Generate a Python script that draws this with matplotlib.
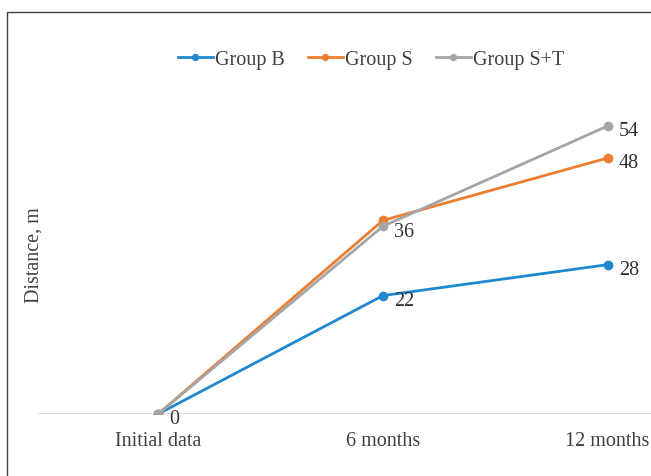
import matplotlib.pyplot as plt
from matplotlib.patches import Rectangle

categories = ['Initial data', '6 months', '12 months']
group_b = [0, 22.2, 28]
group_s = [0, 36.3, 48]
group_st = [0, 35.2, 54]
labels_b = ['', '22', '28']
labels_s = ['', '', '48']
labels_st = ['0', '36', '54']

plt.rcParams['font.family'] = ['Liberation Serif', 'DejaVu Serif']
FS = 14.5

fig = plt.figure(figsize=(6.51, 4.77), dpi=100)
# figure frame (only left and top visible in the reference)
fig.patches.append(Rectangle((7/651, -0.1), 1.2, 1 - 13/477 + 0.1, transform=fig.transFigure,
                             fill=False, edgecolor='#404040', linewidth=1.0))

ax = fig.add_axes([38/651, (477-415)/477, (720-38)/651, (415-95)/477])
x = range(len(categories))
series = [(group_b, labels_b, '#2088CE', 'Group B'),
          (group_s, labels_s, '#ED7D31', 'Group S'),
          (group_st, labels_st, '#A5A5A5', 'Group S+T')]
for vals, labs, col, name in series:
    ax.plot(x, vals, color=col, linewidth=2.0, marker='o', markersize=6, label=name, zorder=3)
    for xi, v, t in zip(x, vals, labs):
        if t:
            ax.annotate(t, (xi, v), xytext=(8, -3.5), textcoords='offset points',
                        ha='left', va='center', fontsize=FS, color='#333333')

ax.set_xlim(-0.535, 2.5)
ax.set_ylim(0, 60)
ax.axhline(0, color='#D9D9D9', linewidth=1.2, zorder=1)
for s in ax.spines.values():
    s.set_visible(False)
ax.set_yticks([])
ax.set_xticks(list(x))
ax.set_xticklabels(categories, fontsize=FS, color='#404040')
ax.tick_params(axis='x', length=0, pad=12)
ax.set_facecolor('none')

fig.text(34/651, 1 - 255/477, 'Distance, m', rotation=90, ha='center', va='center',
         fontsize=FS, color='#404040')

handles, names = ax.get_legend_handles_labels()
fig.legend(handles, names, loc='center', bbox_to_anchor=(371/651, 1 - 60/477), ncol=3,
           frameon=False, fontsize=FS, handlelength=1.75, handletextpad=0.1,
           columnspacing=1.15, markerscale=0.7, labelcolor='#404040')

fig.savefig('out.png', dpi=100)
